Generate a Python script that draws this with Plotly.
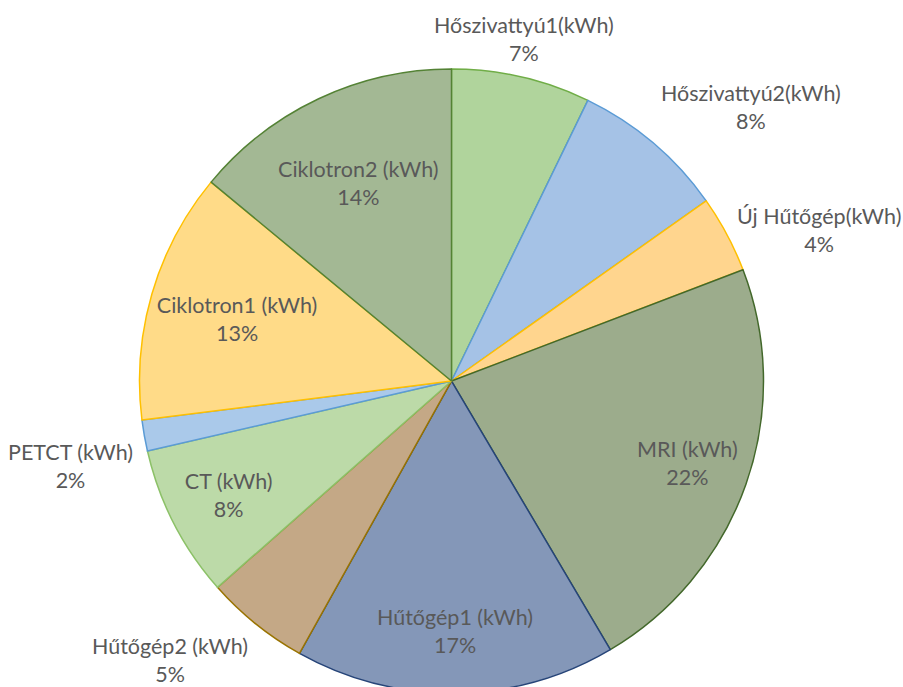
import math
import plotly.graph_objects as go

labels = ["Hőszivattyú1(kWh)", "Hőszivattyú2(kWh)", "Új Hűtőgép(kWh)", "MRI (kWh)",
          "Hűtőgép1 (kWh)", "Hűtőgép2 (kWh)", "CT (kWh)", "PETCT (kWh)",
          "Ciklotron1 (kWh)", "Ciklotron2 (kWh)"]
values = [7.2, 8.0, 4.0, 22.3, 16.6, 5.4, 7.9, 1.6, 13.0, 14.0]
# label placement style per slice: native inside label, or annotation outside / inside
placement = ["out", "out", "out", "in_ann", "in_ann",
             "out", "native", "out", "native", "native"]

fill_colors = ["#b0d49c", "#a5c2e6", "#ffd58e", "#9cac8c", "#8497b8",
               "#c4a886", "#bcdaa8", "#aac9ea", "#ffdb88", "#a3b894"]
line_colors = ["#70ad47", "#5b9bd5", "#ffc000", "#43682b", "#264478",
               "#997300", "#8cc168", "#5b9bd5", "#ffc000", "#548235"]

W, H = 903, 700
DOM_X = [0.0, 1.0]
DOM_Y = [0.01, 0.9014]
FONT = dict(family="Lato, Open Sans, sans-serif", size=21.5, color="#595959")

fig = go.Figure(go.Pie(
    labels=labels,
    values=values,
    sort=False,
    direction="clockwise",
    rotation=0,
    automargin=False,
    textposition=["inside" if p == "native" else "none" for p in placement],
    texttemplate="%{label}<br>%{percent:.0%}",
    insidetextorientation="horizontal",
    textfont=FONT,
    marker=dict(colors=fill_colors, line=dict(color=line_colors, width=1.5)),
    domain=dict(x=DOM_X, y=DOM_Y),
    hoverinfo="label+percent",
))

# pie geometry (pixels) derived from the domain
cx = W * (DOM_X[0] + DOM_X[1]) / 2
cy = H * (1 - (DOM_Y[0] + DOM_Y[1]) / 2)
r = min(W * (DOM_X[1] - DOM_X[0]), H * (DOM_Y[1] - DOM_Y[0])) / 2

total = sum(values)
annotations = []
cum = 0.0
for lab, v, p in zip(labels, values, placement):
    mid = (cum + v / 2) / total * 2 * math.pi
    cum += v
    if p == "native":
        continue
    s, c = math.sin(mid), math.cos(mid)
    if p == "out":
        k = 1.03
        xa = "left" if s > 0.3 else ("right" if s < -0.3 else "center")
        ya = "bottom" if c > 0.6 else ("top" if c < -0.1 else "middle")
    else:
        k = 0.8
        xa, ya = "center", "middle"
    px = cx + k * r * s
    py = cy - k * r * c
    annotations.append(dict(
        x=px / W, y=1 - py / H, xref="paper", yref="paper",
        text=f"{lab}<br>{round(v / total * 100)}%",
        showarrow=False, xanchor=xa, yanchor=ya, align="center",
        font=FONT,
    ))

fig.update_layout(
    width=W, height=H,
    margin=dict(l=0, r=0, t=0, b=0),
    paper_bgcolor="white",
    showlegend=False,
    annotations=annotations,
)

fig.write_html(
    "out.html",
    config={"displayModeBar": False},
    post_script="document.body.style.margin='0';document.body.style.overflow='hidden';",
)
